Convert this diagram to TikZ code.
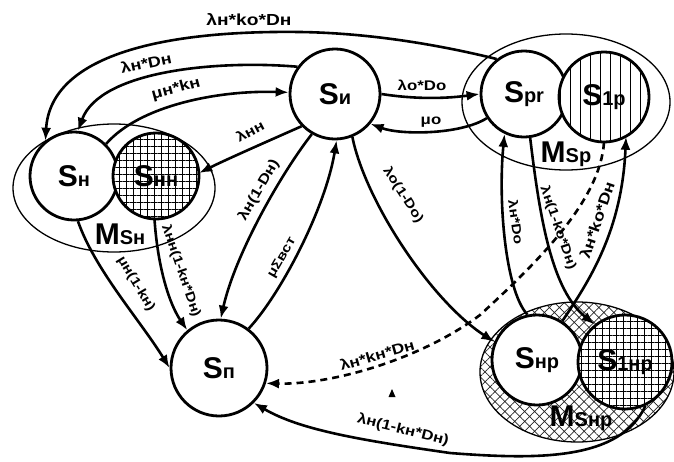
\documentclass[tikz,border=0pt]{standalone}
\usepackage{fontspec}
\setmainfont{Liberation Sans}
\newfontfamily\labfont{Liberation Sans}[FakeStretch=1.2]
\usetikzlibrary{arrows.meta,patterns.meta,shapes.geometric}
\newcommand\subtx[1]{{\fontsize{20}{20}\selectfont #1}}
\begin{document}
\begin{tikzpicture}[x=1pt,y=-1pt,
 st/.style={circle,draw,line width=2.8pt,fill=white,minimum size=#1,inner sep=0pt,font=\bfseries\fontsize{30}{30}\selectfont},
 pst/.style={circle,draw,line width=2.8pt,preaction={fill=white},minimum size=#1,inner sep=0pt,font=\bfseries\fontsize{30}{30}\selectfont},
 ell/.style={ellipse,draw,line width=1.3pt,inner sep=0pt},
 ed/.style={line width=2.6pt,-{Latex[length=13pt,width=10pt]}},
 lb/.style={font=\labfont\bfseries\fontsize{#1}{#1}\selectfont,inner sep=0pt},
 mlab/.style={font=\bfseries\fontsize{30}{30}\selectfont,inner sep=0pt},
]
\useasboundingbox (0,0) rectangle (674,461);
% sets
\node[ell,minimum width=202pt,minimum height=128pt] (msh) at (114,188) {};
\node[ell,minimum width=208pt,minimum height=136pt] (msp) at (566,102) {};
\node[ell,minimum width=194pt,minimum height=140pt,preaction={fill=white},
      pattern={Hatch[angle=45,distance=7pt,line width=0.7pt]},pattern color=black!85] (mshp) at (577,372) {};
% states
\node[st=90pt] (si) at (335,94) {S\subtx{и}};
\node[st=86pt] (spr) at (524,94) {S\subtx{pr}};
\node[pst=90pt,pattern={Lines[angle=90,distance=10pt,line width=0.8pt]}] (s1p) at (604,97) {S\subtx{1p}};
\node[st=88pt] (sh) at (74,176) {S\subtx{н}};
\node[pst=86pt,pattern={Hatch[angle=0,distance=7pt,line width=0.7pt]}] (shh) at (156,176) {S\subtx{нн}};
\node[st=96pt] (sp) at (219,368) {S\subtx{п}};
\node[st=90pt] (shp) at (537,360) {S\subtx{нр}};
\node[pst=94pt,pattern={Hatch[angle=0,distance=7pt,line width=0.7pt]}] (s1hp) at (625,362) {S\subtx{1нр}};
% set labels
\node[mlab] (lmsh) at (120,234) {M\subtx{Sн}};
\node[mlab] (lmsp) at (566,154) {M\subtx{Sp}};
\node[mlab] (lmshp) at (581,418) {M\subtx{Sнр}};
% transitions
\draw[ed] (spr.128) .. controls (440,45) and (370,33) .. (300,32) .. controls (150,30) and (50,60) .. (sh.129);
\draw[ed] (si.144) .. controls (220,60) and (100,70) .. (sh.85);
\draw[ed] (sh.45) .. controls (140,105) and (220,90) .. (si.178);
\draw[ed] (si.224) .. controls (275,138) and (225,160) .. (shh.4);
\draw[ed] (si.240) .. controls (280,175) and (235,255) .. (sp.88);
\draw[ed] (sp.53) .. controls (280,295) and (325,210) .. (si.272);
\draw[ed] (si.0) .. controls (420,100) and (450,98) .. (spr.180);
\draw[ed] (spr.213) .. controls (460,135) and (400,135) .. (si.320);
\draw[ed] (si.292) .. controls (365,200) and (430,300) .. (shp.157);
\draw[ed] (shp.102) .. controls (505,290) and (498,200) .. (spr.244);
\draw[ed] (spr.278) .. controls (540,220) and (552,290) .. (s1hp.129);
\draw[ed] (shp.57) .. controls (590,280) and (622,230) .. (s1p.299);
\draw[ed,dash pattern=on 7pt off 5pt] (s1p.270) .. controls (600,200) and (540,260) .. (480,315) .. controls (420,360) and (330,385) .. (sp.342);
\draw[ed] (s1hp.295) .. controls (620,460) and (540,460) .. (450,453) .. controls (360,440) and (300,430) .. (sp.315);
\draw[ed] (sh.275) .. controls (95,270) and (140,320) .. (sp.180);
\draw[ed] (shh.268) .. controls (158,270) and (170,305) .. (sp.130);
% transition labels
\node[lb=16] (l1) at (249,20) {λн*kо*Dн};
\node[lb=15,rotate=12] (l2) at (146,63) {λн*Dн};
\node[lb=15,rotate=15] (l3) at (176,89) {μн*kн};
\node[lb=14,rotate=28] (l4) at (250,131) {λнн};
\node[lb=14,rotate=60] (l5) at (259,190) {λн(1-Dн)};
\node[lb=13,rotate=60] (l6) at (282,258) {μΣвст};
\node[lb=14] (l7) at (422,85) {λо*Dо};
\node[lb=14] (l8) at (431,122) {μо};
\node[lb=13,rotate=-57] (l9) at (403,195) {λо(1-Dо)};
\node[lb=13,rotate=-82] (l10) at (516,222) {λн*Dо};
\node[lb=13,rotate=-71] (l11) at (558,228) {λн(1-kо*Dн)};
\node[lb=15,rotate=71] (l12) at (597,220) {λн*kо*Dн};
\node[lb=14.5,rotate=16] (l13) at (377,355) {λн*kн*Dн};
\node[lb=14,rotate=-14] (l14) at (403,430) {λн(1-kн*Dн)};
\node[lb=13,rotate=-59] (l15) at (136,284) {μн(1-kн)};
\node[lb=13,rotate=-71] (l16) at (181,271) {λнн(1-kн*Dн)};
% small mark
\fill (392,389) -- (388.5,397) -- (395.5,397) -- cycle;
\end{tikzpicture}
\end{document}
